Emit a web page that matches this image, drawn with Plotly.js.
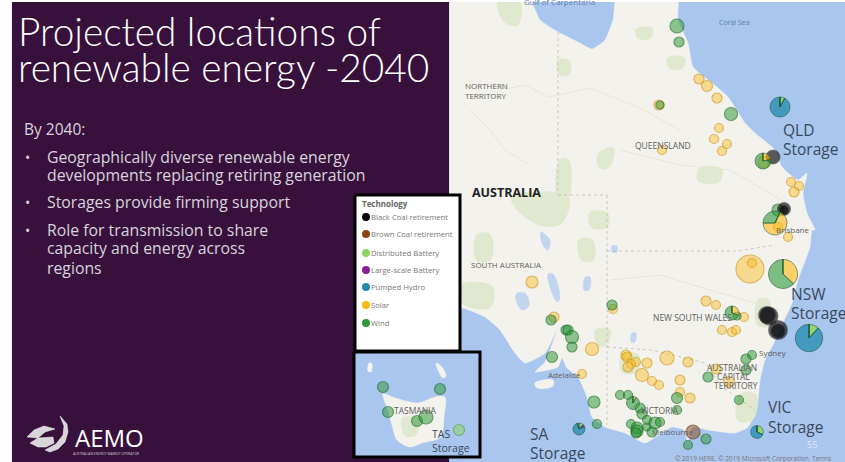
<!DOCTYPE html>
<html><head><meta charset="utf-8">
<script src="https://cdn.plot.ly/plotly-3.0.1.min.js"></script>
<style>html,body{margin:0;padding:0;background:#fff}#c{width:845px;height:462px}</style></head>
<body><div id="c"></div>
<script>
// ---------- data (map pixel coordinates, bubble diameter) ----------
const windX=[677,679,731,778,660,612,551,566,568,572,572,552,594,597,620,628,640,642,647,631,637,637,636,647,655,660,652,677,677,706,688,739,708,746,752,746,737];
const windY=[26,42,114,210,105,305,320,330,330,337,347,357,402,424,395,395,408,414,420,424,428,431,433,427,423,422,432,398,410,439,445,400,377,359,355,370,316];
const windD=[14,10,13,12,8,10,10,10,10,13,10,11,12,9,9,9,10,10,9,9,12,12,10,8,12,9,10,11,9,10,9,9,10,10,9,10,8];
const solarX=[699,707,717,659,719,714,727,722,662,791,799,794,788,764,532,613,554,592,706,716,744,722,732,736,626,627,636,631,628,647,667,688,642,652,659,680,716,729,680,690,582,750,752,778];
const solarY=[79,86,98,105,128,139,144,151,150,182,186,192,237,162,282,309,317,349,301,305,317,330,332,330,355,357,362,364,367,363,358,362,375,381,385,380,369,382,392,398,374,269,263,227];
const solarD=[10,11,10,10,9,9,9,9,9,9,9,10,9,12,12,9,10,13,10,9,9,9,9,9,10,10,9,9,10,10,14,10,13,9,9,10,10,11,9,10,9,28,9,9];
const blackX=[773,784,784,769,767,778,778];
const blackY=[157,209,210,316,315,330,331];
const blackD=[14,13,9,18,17,19,14];
const brownX=[693]; const brownY=[432]; const brownD=[14];
const tasWindX=[383,440,388,417,426]; const tasWindY=[387,389,412,421,417]; const tasWindD=[11,11,11,11,14];
const tasBatteryX=[459]; const tasBatteryY=[430]; const tasBatteryD=[11];

const pieTechs=['Distributed Battery','Large-scale Battery','Pumped Hydro','Solar','Wind'];
const qldStorage=[8,0,92,0,0];
const nswStorage=[12,0,88,0,0];
const vicStorage=[32,0,68,0,0];
const saStorage=[12,7,76,0,5];
const nswMix=[0,0,0,37,63];
const brisbaneMix=[0,0,0,68,32];
const qldMix=[0,0,0,22,78];
const nswSmallMix=[0,0,0,30,70];
const vicMix=[0,0,0,8,92];
const pieCX=[780,809,757,579,783,775,763,732,633];
const pieCY=[107,338,432,429,274,223,161,313,403];
const pieR=[10,13.7,6.3,6,14.5,12,8,7,6.5];
const pieRot=[0,0,0,0,0,25,0,0,0];
const pieVals=[qldStorage,nswStorage,vicStorage,saStorage,nswMix,brisbaneMix,qldMix,nswSmallMix,vicMix];

const techNames=['Black Coal retirement','Brown Coal retirement','Distributed Battery','Large-scale Battery','Pumped Hydro','Solar','Wind'];
const techSolid=['#000000','#8b4513','#8fd45f','#8a1f9a','#2389ad','#fdb913','#2f9a3a'];

const landX=[430,525,540,558,578,592,605,613,618,677,678,688,693,712,728,745,755,775,782,798,807,803,807,815,812,810,798,792,778,773,765,760,757,748,735,708,692,688,684,672,660,645,625,605,592,587,578,567,562,558,535,545,557,545,525,515,500,485,462,430];
const landY=[-10,-10,20,32,42,49,40,20,-10,-10,20,43,67,83,97,123,133,150,167,180,173,193,213,230,230,247,280,303,333,345,360,380,407,427,433,430,427,442,430,427,434,443,433,427,417,397,377,368,358,367,372,362,330,353,363,353,330,317,308,312];
const kiX=[535,553,553,537]; const kiY=[383,380,386,388];
const tasLandX=[383,395,418,435,445,444,441,422,410,397,392,388];
const tasLandY=[394,398,403,397,397,417,437,443,447,440,425,410];
const kingIslandX=[369,372,371,368]; const kingIslandY=[363,364,372,371];
const flindersX=[436,441,446,443,438]; const flindersY=[363,366,376,378,370];
const tasParkX=[402,418,416,405]; const tasParkY=[418,418,435,436];
const patches=[
 [[498,520,517,505],[3,3,25,22]],[[558,570,568,560],[60,62,75,74]],[[598,613,610,600],[155,148,166,168]],
 [[560,568,568,558],[160,160,197,197]],[[512,568,562,545,520],[197,197,222,226,212]],[[590,607,607,592],[213,213,227,227]],
 [[477,490,490,477],[235,235,260,260]],[[462,492,490,470,462],[285,287,307,307,302]],[[579,592,593,582],[240,240,260,260]],
 [[622,638,636,622],[355,355,372,372]],[[596,610,606,598],[330,330,345,345]],[[740,756,752,738],[395,395,420,420]],[[758,768,770,758],[300,300,325,325]],
 [[636,652,650,638],[30,28,38,38]],[[668,684,682,670],[58,58,68,68]],[[700,722,718,698],[168,170,182,180]]];
const lakes=[
 [[541,550,548,544,541],[232,240,250,247,240]],[[548,553,560,557,551],[274,274,298,302,290]],[[585,590,589,584],[277,277,290,290]],
 [[516,525,529,522,517],[294,293,306,310,303]],[[612,617,617,612],[246,246,252,252]],[[632,636,635,631],[333,333,342,342]]];
const borderLines=[
 [[558,558],[32,195]],[[558,607],[195,195]],[[607,607],[195,425]],[[607,738,775],[251,251,245]],
 [[607,652,705,722,755],[347,350,363,387,410]]];
const riverLines=[
 [[500,525,548,590,640,680],[90,85,97,88,108,130]],[[620,680,730,790],[150,165,170,205]],
 [[610,660,710,780],[280,275,290,310]],[[470,490,505,530],[110,130,150,165]]];

const logoWings=[
 [[60,67,68,65,58,50,45,56,63,64],[416,424,432,442,449,452,450,444,435,426]],
 [[27,34,44,55,45,38],[437,430,426,429,432,438]],
 [[30,38,53,54,46,38],[443,438,437,443,447,447]]];

const panelX=[12,449,449,12], panelY=[2,2,462,462];

const textLabels=[
 ['Projected locations of',18,31,38.8,'#ffffff','left'],['renewable energy -2040',18,67,38.8,'#ffffff','left'],
 ['By 2040:',24,129,15.5,'#d9d3dd','left'],
 ['•',25,157,14,'#d9d3dd','left'],['Geographically diverse renewable energy',47,157,15.8,'#d9d3dd','left'],
 ['developments replacing retiring generation',47,175,15.8,'#d9d3dd','left'],
 ['•',25,202,14,'#d9d3dd','left'],['Storages provide firming support',47,202,15.8,'#d9d3dd','left'],
 ['•',25,230,14,'#d9d3dd','left'],['Role for transmission to share',47,230,15.8,'#d9d3dd','left'],
 ['capacity and energy across',47,248,15.8,'#d9d3dd','left'],['regions',47,268,15.8,'#d9d3dd','left'],
 ['AEMO',75,437,24,'#ffffff','left'],['AUSTRALIAN ENERGY MARKET OPERATOR',73,453,3.4,'#cfc8d4','left'],
 ['NORTHERN',486,85,8,'#5f5f5f','center'],['TERRITORY',486,95,8,'#5f5f5f','center'],
 ['QUEENSLAND',663,145,8.5,'#5f5f5f','center'],['SOUTH AUSTRALIA',506,264,8,'#5f5f5f','center'],
 ['AUSTRALIA',506,192,12.5,'#222222','center'],
 ['NEW SOUTH WALES',692,317,8.5,'#5f5f5f','center'],['AUSTRALIAN',732,367,8.5,'#5f5f5f','center'],
 ['CAPITAL',733,376,8.5,'#5f5f5f','center'],['TERRITORY',736,385,8.5,'#5f5f5f','center'],
 ['VICTORIA',660,410,8.5,'#5f5f5f','center'],['Adelaide',564,374,8,'#5f5f5f','center'],['Melbourne',672,431,8,'#5f5f5f','center'],
 ['Sydney',773,352,8,'#5f5f5f','center'],['Brisbane',793,229,8,'#5f5f5f','center'],['Coral Sea',734,22,7,'#5d7fa8','center'],
 ['Gulf of Carpentaria',559,1,8,'#5d7fa8','center'],
 ['TASMANIA',415,410,8.5,'#5f5f5f','center'],
 ['QLD',783,130,15.5,'#38495c','left'],['Storage',783,149,15.5,'#38495c','left'],
 ['NSW',791,294,15.5,'#38495c','left'],['Storage',791,313,15.5,'#38495c','left'],
 ['VIC',768,407,15.5,'#38495c','left'],['Storage',768,427,15.5,'#38495c','left'],
 ['SA',530,434,15.5,'#38495c','left'],['Storage',530,453,15.5,'#38495c','left'],
 ['TAS',432,434,10.5,'#38495c','left'],['Storage',432,448,10.5,'#38495c','left'],
 ['55',812,444,9,'#e3ebf7','center'],
 ['© 2019 HERE, © 2019 Microsoft Corporation  Terms',753,458,6.5,'#777777','center']
];
const legendTitle='Technology';
const legendRowY=[217,234,253,270,287,305,323];

// ---------- drawing ----------
const traces=[];
function poly(x,y,fill,line,w,smooth){traces.push({type:'scatter',mode:'lines',x:x.concat(x[0]),y:y.concat(y[0]),fill:'toself',fillcolor:fill,
  line:smooth?{color:line||fill,width:w||0.5,shape:'spline',smoothing:smooth}:{color:line||fill,width:w||0.5},hoverinfo:'skip',showlegend:false});}
function path(x,y,col,w,dash){traces.push({type:'scatter',mode:'lines',x:x,y:y,line:{color:col,width:w,dash:dash||'solid'},hoverinfo:'skip',showlegend:false});}
function dots(x,y,d,col,line){traces.push({type:'scatter',mode:'markers',x:x,y:y,marker:{size:d,color:col,line:{color:line,width:1.2}},hoverinfo:'skip',showlegend:false});}

poly(landX,landY,'#f3f2ec',null,0.5,0.5);
poly(kiX,kiY,'#f3f2ec',null,0.5,1);
patches.forEach(p=>poly(p[0],p[1],'#e0e9cf','#e0e9cf',1.5,1));
lakes.forEach(p=>poly(p[0],p[1],'#c2d5ee',null,0.5,1));
riverLines.forEach(p=>path(p[0],p[1],'#e8e6dc',1));
borderLines.forEach(p=>path(p[0],p[1],'#b5b5ae',0.7,'dot'));
poly(panelX,panelY,'#37113b','#37113b',0.1);

dots(solarX,solarY,solarD,'rgba(253,185,19,0.6)','rgba(205,150,25,0.9)');
dots(windX,windY,windD,'rgba(40,150,50,0.72)','rgba(25,105,40,0.9)');
dots(blackX,blackY,blackD,'rgba(8,8,12,0.92)','rgba(40,40,50,0.6)');
dots(brownX,brownY,brownD,'rgba(139,69,19,0.72)','rgba(95,50,20,0.9)');

// legend and inset boxes
const bx1=[355,460,460,355], by1=[195,195,351,351];
poly(bx1,by1,'#ffffff','#000000',3);
const bx2=[354,480,480,354], by2=[352,352,457,457];
poly(bx2,by2,'#a9c6ee','#000000',3);
poly(tasLandX,tasLandY,'#f3f2ec',null,0.5,0.8);
poly(kingIslandX,kingIslandY,'#f3f2ec',null,0.5,1);
poly(flindersX,flindersY,'#f3f2ec',null,0.5,1);
poly(tasParkX,tasParkY,'#e0e9cf',null,0.5,1);
dots(tasWindX,tasWindY,tasWindD,'rgba(40,150,50,0.72)','rgba(25,105,40,0.9)');
dots(tasBatteryX,tasBatteryY,tasBatteryD,'rgba(143,212,95,0.75)','rgba(80,160,60,0.9)');

traces.push({type:'scatter',mode:'markers',x:techNames.map(()=>366),y:legendRowY,
  marker:{size:8,color:techSolid},hoverinfo:'skip',showlegend:false});

logoWings.forEach(p=>poly(p[0],p[1],'#d8d6da','#f4f4f4',0.5));

const pieCols=['rgba(143,212,95,0.85)','rgba(138,31,154,0.9)','rgba(35,137,173,0.75)','rgba(253,185,19,0.6)','rgba(47,154,58,0.6)'];
pieVals.forEach((v,i)=>{
  const r=pieR[i];
  traces.push({type:'pie',labels:pieTechs,values:v,sort:false,direction:'clockwise',rotation:pieRot[i],
    domain:{x:[(pieCX[i]-r)/845,(pieCX[i]+r)/845],y:[1-(pieCY[i]+r)/462,1-(pieCY[i]-r)/462]},
    textinfo:'none',hoverinfo:'skip',showlegend:false,
    marker:{colors:pieCols,line:{color:'rgba(30,90,60,0.7)',width:0.8}}});
});

const font='"Open Sans", sans-serif';
const ann=textLabels.map(t=>({x:t[1],y:t[2],xref:'x',yref:'y',text:t[0]==='AUSTRALIA'?'<b>AUSTRALIA</b>':t[0],showarrow:false,xanchor:t[5],yanchor:'middle',borderpad:0,borderwidth:0,
  font:{family:t[3]>=30?'Lato, sans-serif':font,size:t[3],color:t[4],weight:t[3]>=30?300:400}}));
ann.push({x:362,y:203,xref:'x',yref:'y',text:'<b>'+legendTitle+'</b>',showarrow:false,xanchor:'left',yanchor:'middle',borderpad:0,borderwidth:0,font:{family:font,size:8,color:'#666'}});
techNames.forEach((n,i)=>ann.push({x:371,y:legendRowY[i],xref:'x',yref:'y',text:n,showarrow:false,xanchor:'left',yanchor:'middle',borderpad:0,borderwidth:0,font:{family:font,size:7.7,color:'#777'}}));

const layout={width:845,height:462,margin:{l:0,r:0,t:0,b:0,pad:0},paper_bgcolor:'#ffffff',plot_bgcolor:'#ffffff',showlegend:false,hovermode:false,
 xaxis:{range:[0,845],visible:false,fixedrange:true},yaxis:{range:[462,0],visible:false,fixedrange:true},
 shapes:[
  {type:'rect',xref:'x',yref:'y',x0:449,x1:845,y0:0,y1:462,fillcolor:'#a9c6ee',line:{width:0},layer:'below'},
  {type:'rect',xref:'x',yref:'y',x0:0,x1:845,y0:0,y1:2,fillcolor:'#ffffff',line:{width:0},layer:'above'}],
 annotations:ann};
Plotly.newPlot('c',traces,layout,{displayModeBar:false,staticPlot:true});
</script></body></html>
